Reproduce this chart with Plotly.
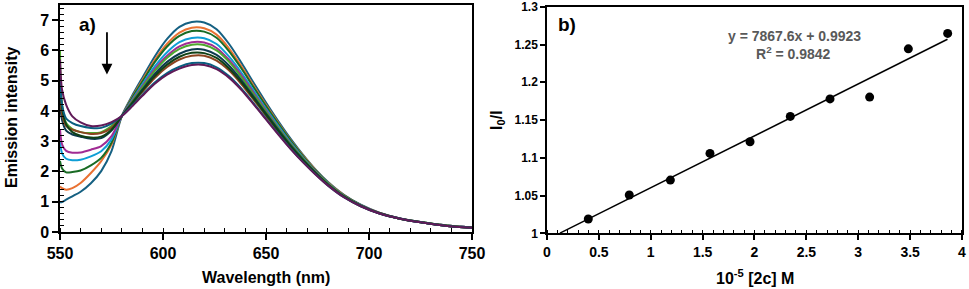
import numpy as np
import plotly.graph_objects as go

# ---------------- Panel a: emission spectra ----------------
wavelength = [550, 551, 553, 556, 560, 565, 570, 575, 580, 585, 590, 596, 602, 608, 614, 620,
              626, 632, 638, 644, 650, 656, 662, 668, 674, 680, 688, 696, 705, 715, 725, 737, 750]

spec_1 = [0.98, 0.99, 1.07, 1.18, 1.33, 1.61, 2.01, 2.67, 3.83, 4.50, 5.10, 5.80, 6.38, 6.78, 6.94,
          6.92, 6.70, 6.22, 5.60, 4.93, 4.28, 3.66, 3.08, 2.55, 2.07, 1.66, 1.22, 0.90, 0.64, 0.45, 0.33, 0.22, 0.15]
spec_2 = [1.50, 1.45, 1.40, 1.45, 1.62, 1.95, 2.34, 2.89, 3.83, 4.45, 5.02, 5.68, 6.22, 6.59, 6.75,
          6.73, 6.52, 6.07, 5.48, 4.83, 4.20, 3.60, 3.03, 2.52, 2.05, 1.64, 1.21, 0.89, 0.64, 0.45, 0.33, 0.22, 0.15]
spec_3 = [2.35, 2.10, 1.97, 1.98, 2.03, 2.20, 2.45, 2.95, 3.83, 4.43, 4.97, 5.61, 6.13, 6.48, 6.64,
          6.62, 6.42, 5.98, 5.41, 4.78, 4.16, 3.57, 3.01, 2.50, 2.03, 1.63, 1.20, 0.89, 0.63, 0.45, 0.33, 0.22, 0.15]
spec_4 = [3.00, 2.60, 2.42, 2.37, 2.39, 2.50, 2.67, 3.06, 3.83, 4.37, 4.88, 5.47, 5.94, 6.27, 6.41,
          6.40, 6.21, 5.80, 5.27, 4.67, 4.07, 3.50, 2.95, 2.46, 2.01, 1.62, 1.19, 0.88, 0.63, 0.45, 0.33, 0.22, 0.15]
spec_5 = [3.40, 2.90, 2.68, 2.62, 2.63, 2.72, 2.84, 3.17, 3.83, 4.34, 4.82, 5.38, 5.82, 6.13, 6.27,
          6.26, 6.08, 5.69, 5.18, 4.60, 4.02, 3.45, 2.92, 2.43, 1.99, 1.60, 1.18, 0.88, 0.63, 0.45, 0.33, 0.22, 0.15]
spec_6 = [6.00, 4.20, 3.60, 3.40, 3.30, 3.27, 3.30, 3.50, 3.83, 4.31, 4.78, 5.32, 5.76, 6.05, 6.19,
          6.18, 6.00, 5.63, 5.12, 4.55, 3.98, 3.43, 2.90, 2.42, 1.98, 1.60, 1.18, 0.87, 0.62, 0.44, 0.33, 0.22, 0.14]
spec_7 = [4.30, 3.70, 3.35, 3.22, 3.15, 3.08, 3.10, 3.35, 3.83, 4.27, 4.71, 5.22, 5.62, 5.89, 6.03,
          6.02, 5.85, 5.50, 5.02, 4.47, 3.92, 3.38, 2.86, 2.39, 1.96, 1.58, 1.17, 0.87, 0.62, 0.44, 0.32, 0.21, 0.14]
spec_8 = [4.70, 3.90, 3.50, 3.38, 3.30, 3.24, 3.27, 3.44, 3.83, 4.22, 4.63, 5.09, 5.45, 5.70, 5.82,
          5.82, 5.66, 5.34, 4.89, 4.37, 3.84, 3.31, 2.81, 2.35, 1.94, 1.57, 1.16, 0.86, 0.62, 0.44, 0.32, 0.21, 0.14]
spec_9 = [5.20, 4.10, 3.55, 3.30, 3.18, 3.12, 3.15, 3.38, 3.83, 4.25, 4.67, 5.15, 5.53, 5.79, 5.92,
          5.91, 5.75, 5.41, 4.95, 4.42, 3.88, 3.34, 2.83, 2.37, 1.95, 1.57, 1.16, 0.86, 0.62, 0.44, 0.32, 0.21, 0.14]
spec_10 = [5.00, 4.20, 3.75, 3.60, 3.50, 3.44, 3.44, 3.58, 3.83, 4.17, 4.53, 4.94, 5.25, 5.46, 5.58,
           5.58, 5.44, 5.15, 4.74, 4.25, 3.74, 3.24, 2.75, 2.31, 1.91, 1.54, 1.14, 0.85, 0.61, 0.44, 0.32, 0.21, 0.14]
spec_11 = [5.70, 4.70, 4.20, 3.82, 3.62, 3.50, 3.52, 3.63, 3.83, 4.15, 4.50, 4.90, 5.20, 5.40, 5.52,
           5.52, 5.38, 5.10, 4.70, 4.22, 3.72, 3.22, 2.74, 2.30, 1.90, 1.54, 1.14, 0.85, 0.61, 0.44, 0.32, 0.21, 0.14]

spectra = [spec_1, spec_2, spec_3, spec_4, spec_5, spec_6, spec_7, spec_8, spec_9, spec_10, spec_11]
spec_colors = ["#156082", "#E97132", "#196B24", "#0F9ED5", "#A02B93", "#4EA72E",
               "#0D3A4F", "#8C4420", "#0F4016", "#095F80", "#601A58"]

# ---------------- Panel b: Stern-Volmer ----------------
conc = [0.398, 0.793, 1.189, 1.571, 1.957, 2.345, 2.728, 3.110, 3.483, 3.862]
ratio = [1.019, 1.0507, 1.0705, 1.1058, 1.1212, 1.1548, 1.178, 1.1804, 1.2443, 1.2647]
fit_x = [0.125, 3.86]
eq_text = "y = 7867.6x + 0.9923"
r2_text = "R<sup>2</sup> = 0.9842"

coef = np.polyfit(conc, ratio, 1)
fit_y = [coef[0] * v + coef[1] for v in fit_x]

FONT = "Liberation Sans, Arial, sans-serif"

fig = go.Figure()
for ys, c in zip(spectra, spec_colors):
    fig.add_trace(go.Scatter(x=wavelength, y=ys, mode="lines",
                             line=dict(color=c, width=2, shape="spline", smoothing=0.8),
                             xaxis="x", yaxis="y", showlegend=False, hoverinfo="skip"))

fig.add_trace(go.Scatter(x=fit_x, y=fit_y, mode="lines", line=dict(color="black", width=1.5),
                         xaxis="x2", yaxis="y2", showlegend=False))
fig.add_trace(go.Scatter(x=conc, y=ratio, mode="markers",
                         marker=dict(color="black", size=9),
                         xaxis="x2", yaxis="y2", showlegend=False))

axis_common = dict(showline=True, linecolor="black", linewidth=1.5, mirror=True,
                   showgrid=False, zeroline=False, ticks="outside", tickcolor="black",
                   tickwidth=1.5, automargin=False, ticklabeloverflow="allow")

fig.update_layout(
    template="none",
    width=969, height=289,
    margin=dict(l=0, r=0, t=0, b=0, pad=0),
    paper_bgcolor="white", plot_bgcolor="white",
    font=dict(family=FONT, color="black"),
    showlegend=False,
    xaxis=dict(domain=[60/969, 472/969], range=[550, 750], tickvals=[550, 600, 650, 700, 750],
               ticklen=6, anchor="y",
               minor=dict(dtick=10, ticks="inside", ticklen=4, tickcolor="black", tickwidth=1.2),
               tickfont=dict(size=16, weight="bold", family=FONT), **axis_common),
    yaxis=dict(domain=[1 - 232/289, 1 - 5/289], range=[0, 7.5], tickvals=[0, 1, 2, 3, 4, 5, 6, 7],
               ticklen=6, anchor="x",
               minor=dict(dtick=0.2, ticks="inside", ticklen=4, tickcolor="black", tickwidth=1.2),
               tickfont=dict(size=16, weight="bold", family=FONT), **axis_common),
    xaxis2=dict(domain=[547/969, 962/969], range=[0, 4.0001],
                tickvals=[0, 0.5, 1, 1.5, 2, 2.5, 3, 3.5, 4],
                ticktext=["0", "0.5", "1", "1.5", "2", "2.5", "3", "3.5", "4"],
                ticklen=5, anchor="y2",
                minor=dict(dtick=0.1, ticks="inside", ticklen=4, tickcolor="black", tickwidth=1.2),
                tickfont=dict(size=14, weight="bold", family=FONT), **axis_common),
    yaxis2=dict(domain=[1 - 233.3/289, 1 - 6.7/289], range=[1, 1.3001],
                tickvals=[1, 1.05, 1.1, 1.15, 1.2, 1.25, 1.3],
                ticktext=["1", "1.05", "1.1", "1.15", "1.2", "1.25", "1.3"],
                ticklen=5, anchor="x2",
                tickfont=dict(size=12, weight="bold", family=FONT), **axis_common),
)


def label(text, px, py, size, angle=0, color="black"):
    return dict(text=text, xref="paper", yref="paper", x=px / 969, y=1 - py / 289,
                xanchor="center", yanchor="middle", textangle=angle, showarrow=False,
                font=dict(size=size, weight="bold", family=FONT, color=color))


ann = [
    label("Wavelength (nm)", 266, 277, 16),
    label("Emission intensity", 11, 118, 16, angle=-90),
    label("10<sup>-5</sup> [2c] M", 755, 277, 16),
    label("I<sub>0</sub>/I", 498, 120, 16, angle=-90),
    label("a)", 87, 25, 19),
    label("b)", 567, 25, 19),
    label(eq_text, 794, 36, 14, color="#595959"),
    label(r2_text, 793, 53, 14, color="#595959"),
]
# downward arrow in panel a
ann.append(dict(x=572.8, y=5.2, ax=572.8, ay=6.65, xref="x", yref="y", axref="x", ayref="y",
                text="", showarrow=True, arrowhead=2, arrowsize=1.2, arrowwidth=1.8,
                arrowcolor="black"))
fig.update_layout(annotations=ann)

fig.write_html("out.html", config={"displayModeBar": False},
               post_script="document.body.style.margin='0';document.body.style.padding='0';")
